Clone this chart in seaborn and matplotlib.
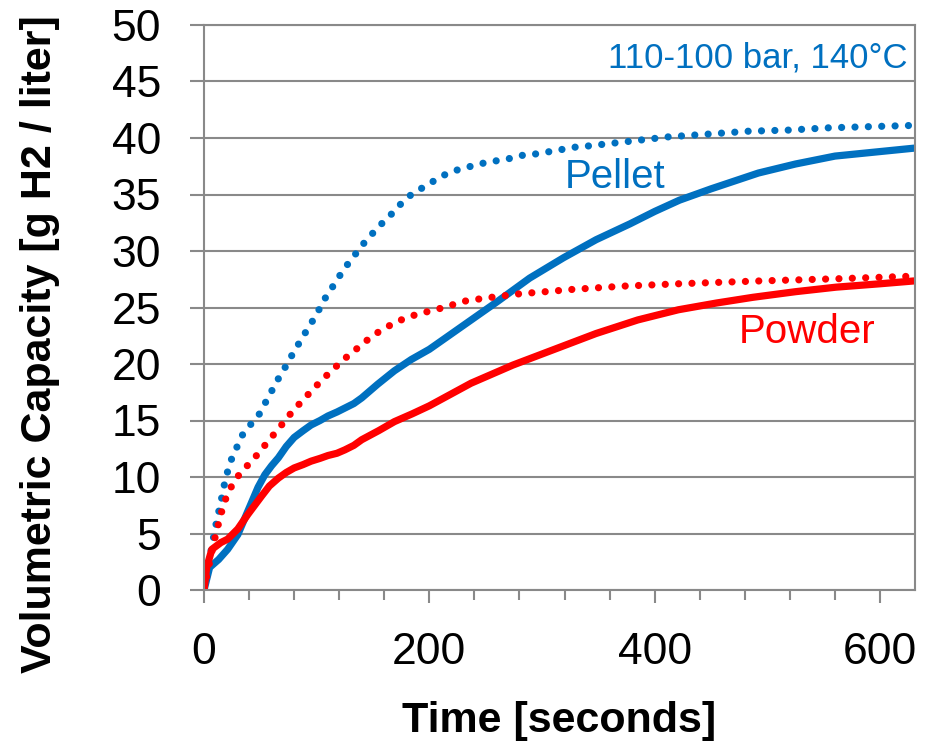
import matplotlib
matplotlib.use("Agg")
import matplotlib.pyplot as plt
from matplotlib.ticker import MultipleLocator
import seaborn as sns

# values
pellet_t = [0, 5, 13, 21, 30, 39, 48, 54, 60, 66, 73, 80, 88, 95, 103, 110, 118, 125, 133, 140, 147,
            154, 169, 184, 200, 230, 260, 289, 319, 348, 378, 400, 422, 450, 492, 525, 560, 600, 630]
pellet_v = [0, 2.0, 2.7, 3.6, 4.9, 7.0, 9.1, 10.2, 11.0, 11.7, 12.7, 13.5, 14.1, 14.6, 15.0, 15.4, 15.75,
            16.1, 16.5, 17.0, 17.6, 18.2, 19.4, 20.4, 21.3, 23.4, 25.5, 27.6, 29.4, 31.0, 32.4, 33.5,
            34.5, 35.5, 36.9, 37.7, 38.4, 38.8, 39.1]

powder_t = [0, 2.4, 7, 15, 21, 30, 39, 51, 58, 66, 73, 80, 88, 95, 103, 110, 118, 125, 133, 140, 155,
            169, 185, 200, 237, 274, 311, 348, 385, 421, 455, 487, 525, 561, 600, 630]
powder_v = [0, 2.0, 3.6, 4.2, 4.5, 5.4, 6.7, 8.3, 9.2, 9.9, 10.4, 10.8, 11.1, 11.4, 11.65, 11.9, 12.1,
            12.4, 12.8, 13.3, 14.1, 14.9, 15.6, 16.3, 18.3, 19.9, 21.3, 22.7, 23.9, 24.8, 25.4, 25.9,
            26.4, 26.8, 27.1, 27.35]

pellet_eq_t = [0, 5, 10, 15.6, 18, 20.7, 24.5, 29, 34, 41, 48.7, 54.6, 60, 66, 72, 77.6, 83.5, 89.5,
               95.7, 102, 108, 114.6, 121, 128, 135, 142, 150, 158.5, 166.7, 175, 184, 194, 204,
               214.7, 225.6, 237, 249, 260.5, 272, 284, 295.6, 307, 318.5, 330, 341.6, 377, 412,
               448, 483, 519, 554, 589, 625, 630]
pellet_eq_v = [0, 2.8, 5.5, 8.1, 9.3, 10.4, 11.6, 12.6, 13.7, 14.6, 15.5, 16.6, 17.6, 18.7, 19.7, 20.7, 21.7, 22.7,
               23.7, 24.8, 25.9, 26.9, 27.9, 28.9, 29.8, 30.7, 31.6, 32.5, 33.3, 34.2, 35.0, 35.6, 36.2,
               36.8, 37.2, 37.5, 37.8, 38.0, 38.2, 38.5, 38.6, 38.8, 39.0, 39.2, 39.3, 39.7, 40.1,
               40.35, 40.6, 40.7, 40.9, 41.0, 41.1, 41.15]

powder_eq_t = [0, 4, 9.7, 12.7, 15.6, 19, 24, 30.4, 38.4, 46.6, 54, 61.4, 68.8, 76, 84, 92.4, 100,
               109, 117.5, 126.4, 135, 144.7, 154.4, 164.7, 175, 186, 197, 209, 233, 255, 279, 303,
               327, 350, 374, 398, 421, 493, 564, 623, 630]
powder_eq_v = [0, 2.0, 4.6, 5.8, 6.9, 8.0, 9.1, 10.1, 11.0, 11.9, 12.8, 13.7, 14.6, 15.5, 16.4, 17.3, 18.1,
               19.0, 19.8, 20.6, 21.3, 22.1, 22.8, 23.4, 23.9, 24.3, 24.6, 24.9, 25.6, 25.9, 26.2, 26.4,
               26.6, 26.75, 26.9, 27.0, 27.1, 27.35, 27.55, 27.75, 27.8]

BLUE = "#0070C0"
RED = "#FF0000"
GRID = "#898989"

sns.set_style("white")
plt.rcParams['font.family'] = ['Liberation Sans', 'DejaVu Sans']
plt.rcParams['text.color'] = 'black'
plt.rcParams['axes.labelcolor'] = 'black'

fig = plt.figure(figsize=(9.32, 7.54), dpi=100)
ax = fig.add_axes([204 / 932, 1 - 590 / 754, 711 / 932, 565 / 754])

dotted = (0, (0.001, 1.85))
sns.lineplot(x=pellet_t, y=pellet_v, ax=ax, color=BLUE, linewidth=5.2, estimator=None,
             sort=False, errorbar=None, solid_capstyle="round", solid_joinstyle="round")
sns.lineplot(x=pellet_eq_t, y=pellet_eq_v, ax=ax, color=BLUE, linewidth=5.2, estimator=None,
             sort=False, errorbar=None, linestyle=dotted, dash_capstyle="round")
sns.lineplot(x=powder_t, y=powder_v, ax=ax, color=RED, linewidth=5.2, estimator=None,
             sort=False, errorbar=None, solid_capstyle="round", solid_joinstyle="round")
sns.lineplot(x=powder_eq_t, y=powder_eq_v, ax=ax, color=RED, linewidth=5.2, estimator=None,
             sort=False, errorbar=None, linestyle=dotted, dash_capstyle="round")

ax.set_xlim(0, 631)
ax.set_ylim(0, 50)
ax.xaxis.set_major_locator(MultipleLocator(200))
ax.xaxis.set_minor_locator(MultipleLocator(40))
ax.yaxis.set_major_locator(MultipleLocator(5))

ax.yaxis.grid(True, color=GRID, linewidth=1.5)
ax.xaxis.grid(False)
for s in ax.spines.values():
    s.set_color(GRID)
    s.set_linewidth(1.5)

ax.tick_params(axis="x", which="major", direction="out", length=9.5, width=1.5, color=GRID,
               labelsize=32, labelcolor="black", pad=21, bottom=True)
ax.tick_params(axis="x", which="minor", direction="out", length=7, width=1.5, color=GRID, bottom=True)
ax.tick_params(axis="y", which="major", direction="out", length=10, width=1.5, color=GRID,
               labelsize=32, labelcolor="black", pad=21, left=True)

ax.set_xlabel("Time [seconds]", fontsize=31, fontweight="bold", labelpad=20, color="black")
ax.set_ylabel("Volumetric Capacity [g H2 / liter]", fontsize=31, fontweight="bold", color="black")
ax.yaxis.set_label_coords(-0.2025, 0.436)

ax.text(624, 47.1, "110-100 bar, 140°C", color=BLUE, fontsize=25, ha="right", va="center")
ax.text(365, 35.6, "Pellet", color=BLUE, fontsize=29, ha="center", va="baseline")
ax.text(535, 21.9, "Powder", color=RED, fontsize=29, ha="center", va="baseline")

fig.savefig("out.png", dpi=100)
